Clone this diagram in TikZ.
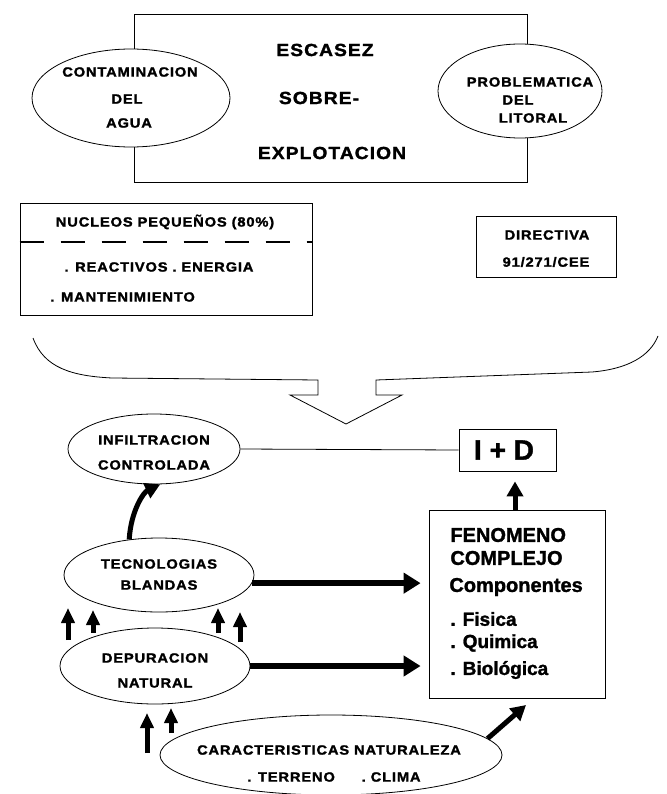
\documentclass[tikz,border=0pt]{standalone}
\usepackage{fontspec}
\setmainfont{Liberation Sans}
\newfontfamily\capsf{Liberation Sans Bold}[FakeStretch=1.1,LetterSpace=6,FakeBold=1.6]
\newfontfamily\heavysf{Liberation Sans Bold}[FakeBold=1.4]
\usetikzlibrary{shapes.geometric,arrows.meta,calc}

\begin{document}
\begin{tikzpicture}[x=1pt,y=-1pt,line width=0.8pt,
  lab/.style={font=\capsf\fontsize{13.4}{15}\selectfont,inner sep=0pt},
  big/.style={font=\capsf\fontsize{17.5}{20}\selectfont,inner sep=0pt},
  txt/.style={font=\heavysf\fontsize{20}{22}\selectfont,inner sep=0pt,anchor=west},
  item/.style={font=\heavysf\fontsize{19}{22}\selectfont,inner sep=0pt,anchor=west},
  oval/.style={draw,ellipse,fill=white,inner sep=0pt},
  frame/.style={draw,rectangle,inner sep=0pt},
  fat/.style={line width=6.5pt,-{Triangle[length=17pt,width=20pt]}},
  mid/.style={line width=5pt,-{Triangle[length=15pt,width=16pt]}},
  tick/.style={line width=5pt,-{Triangle[length=15pt,width=13pt]}},
]
\useasboundingbox (0,0) rectangle (666,794);

% --- upper block: problems around the central frame
\node[frame,minimum width=393pt,minimum height=168pt] (top) at (330.5,98) {};
\node[oval,minimum width=198pt,minimum height=98pt] (agua) at (131,98) {};
\node[oval,minimum width=164pt,minimum height=94pt] (litoral) at (520,91) {};
\node[lab] (a1) at (130,72) {CONTAMINACION};
\node[lab] (a2) at (127,99) {DEL};
\node[lab] (a3) at (129,123) {AGUA};
\node[lab] (l1) at (530,82) {PROBLEMATICA};
\node[lab] (l2) at (518,100) {DEL};
\node[lab] (l3) at (533,118) {LITORAL};
\node[big] (escasez) at (325,50) {ESCASEZ};
\node[big] (sobre) at (319,98) {SOBRE-};
\node[big] (explot) at (332,153) {EXPLOTACION};

% --- small towns and directive
\node[frame,minimum width=292pt,minimum height=112pt] (nucleos) at (166,259) {};
\draw[line width=1.2pt,dash pattern=on 24pt off 17pt] (nucleos.west |- 0,242) -- (nucleos.east |- 0,242);
\node[lab] (n1) at (165,222) {NUCLEOS PEQUEÑOS (80\%)};
\node[lab] (n2) at (159,267) {. REACTIVOS . ENERGIA};
\node[lab,anchor=west] (n3) at (50,297) {. MANTENIMIENTO};
\node[frame,minimum width=140pt,minimum height=61pt] (dir) at (546,246.5) {};
\node[lab] (d1) at (547,235) {DIRECTIVA};
\node[lab] (d2) at (546,262) {91/271/CEE};

% --- brace gathering everything into the open arrow
\draw (33,338) .. controls (44,368) and (72,376) .. (112,378)
  -- (318,380) -- (318,395) -- (290,395) -- (346,424) -- (402,395)
  -- (376,395) -- (376,380) -- (592,372)
  .. controls (628,369) and (650,356) .. (658,336);

% --- lower block
\node[oval,minimum width=172pt,minimum height=70pt] (infil) at (154,449) {};
\node[lab] (i1) at (154,440) {INFILTRACION};
\node[lab] (i2) at (154,465) {CONTROLADA};
\node[frame,minimum width=97pt,minimum height=42pt] (id) at (507.5,450) {};
\node[font=\heavysf\fontsize{28}{30}\selectfont,inner sep=0pt] (idt) at (504,450) {I + D};
\draw (infil.east) -- (id.west);

\node[frame,minimum width=176pt,minimum height=188pt] (fen) at (517,604) {};
\node[txt] (f1) at (450,535) {FENOMENO};
\node[txt] (f2) at (450,558) {COMPLEJO};
\node[txt] (f3) at (449,587) {Componentes};
\node[item] (f4) at (450,619) {. Fisica};
\node[item] (f5) at (450,643) {. Quimica};
\node[item] (f6) at (450,670) {. Biológica};

\node[oval,minimum width=190pt,minimum height=74pt] (tec) at (159,575) {};
\node[lab] (t1) at (159,564) {TECNOLOGIAS};
\node[lab] (t2) at (159,585) {BLANDAS};
\node[oval,minimum width=190pt,minimum height=76pt] (dep) at (155,666) {};
\node[lab] (p1) at (155,658) {DEPURACION};
\node[lab] (p2) at (155,683) {NATURAL};
\node[oval,minimum width=342pt,minimum height=80pt] (car) at (331,755) {};
\node[lab] (c1) at (329,750) {CARACTERISTICAS NATURALEZA};
\node[lab] (c2) at (334,777) {. TERRENO\qquad. CLIMA};

% --- connectors
\coordinate (upx) at (515,0);
\draw[mid,shorten >=10pt] (fen.north -| upx) -- (id.south -| upx);
\draw[mid] (tec.130) .. controls (131,510) and (144,492) .. (infil.-80);
\draw[fat,shorten >=8pt] (tec.-5) -- (tec.-5 -| fen.west);
\draw[fat,shorten >=8pt] (dep.east) -- (dep.east -| fen.west);
\coordinate (fentip) at (526,705);
\draw[mid] (car.6) -- (fentip);

% --- small upward arrows
\foreach \x/\b/\t in {68/640/608, 93/633/610, 218/633/608, 240/642/612, 147/753/713, 171/733/708}
  \draw[tick] (\x,\b) -- (\x,\t);
\end{tikzpicture}
\end{document}
